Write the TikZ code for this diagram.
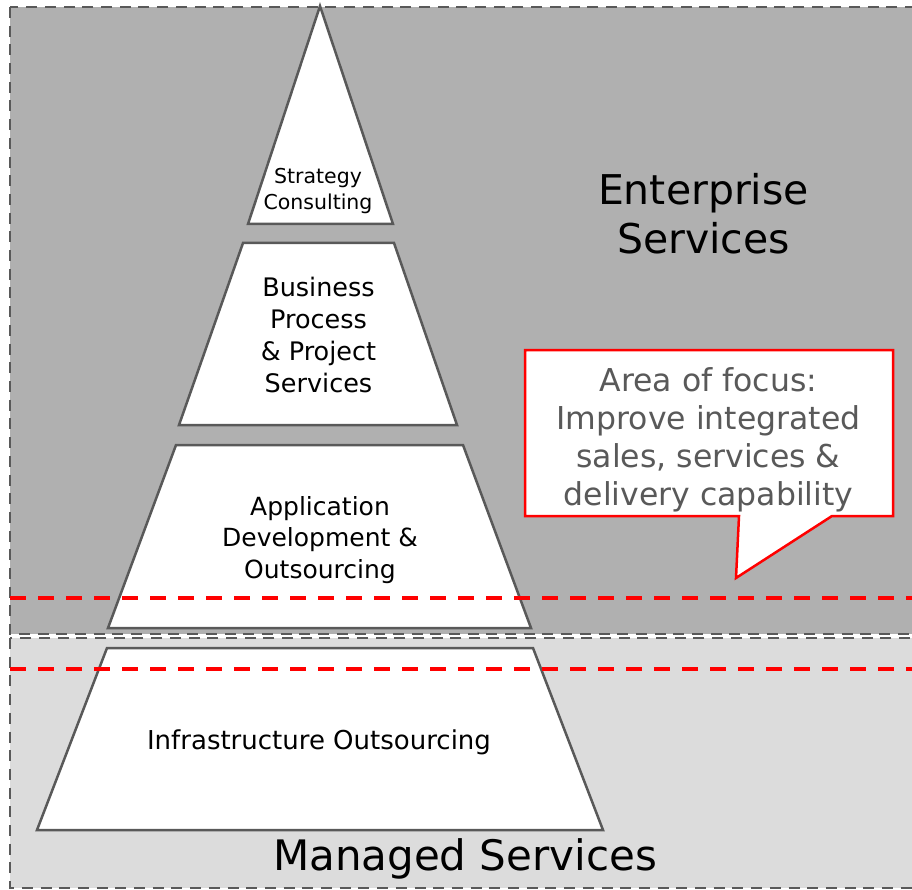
\documentclass[tikz,border=0pt]{standalone}
\usepackage{fontspec}
\setmainfont{DejaVu Sans}
\definecolor{darkband}{HTML}{B0B0B0}
\definecolor{lightband}{HTML}{DCDCDC}
\definecolor{edgegray}{HTML}{595959}
\definecolor{focusred}{HTML}{FF0000}
\definecolor{focustext}{HTML}{595959}

\begin{document}
\begin{tikzpicture}[
    x=1pt, y=-1pt,
    frame/.style={draw=edgegray, line width=2.5pt, dash pattern=on 11pt off 7.7pt},
    tier/.style={draw=edgegray, fill=white, line width=2.5pt},
    tiertext/.style={align=center, inner sep=0pt},
    banner/.style={align=center, inner sep=0pt, font=\fontsize{41}{49}\selectfont},
    redline/.style={draw=focusred, line width=4pt, dash pattern=on 16pt off 12pt},
    callout/.style={draw=focusred, fill=white, line width=2.5pt}
  ]
    \useasboundingbox (0,0) rectangle (912,890);
    \fill[white] (0,0) rectangle (912,890);
    \clip (0,0) rectangle (912,890);

    % Bands
    \draw[frame, fill=darkband] (10,7) rectangle (930,634);
    \draw[frame, fill=lightband] (10,638) rectangle (930,888);

    % Pyramid tiers
    \draw[tier] (320,6) -- (393,224) -- (248,224) -- cycle;
    \draw[tier] (243,243) -- (394,243) -- (457,425) -- (179,425) -- cycle;
    \draw[tier] (176,445) -- (463,445) -- (531,628) -- (108,628) -- cycle;
    \draw[tier] (107,648) -- (533,648) -- (603,830) -- (37,830) -- cycle;

    % Focus limits
    \draw[redline] (10,598) -- (930,598);
    \draw[redline] (10,669) -- (930,669);

    % Callout
    \draw[callout] (525,350) -- (893,350) -- (893,516) -- (832,516)
        -- (736,578) -- (739,516) -- (525,516) -- cycle;

    % Tier labels
    \node[tiertext, font=\fontsize{20.5}{26}\selectfont] (strategy) at (318,191.5) {Strategy\\Consulting};
    \node[tiertext, font=\fontsize{25.5}{32}\selectfont] (business) at (318.5,335) {Business\\Process\\\& Project\\Services};
    \node[tiertext, font=\fontsize{25}{31.5}\selectfont] (appdev) at (320,540) {Application\\Development \&\\Outsourcing};
    \node[tiertext, font=\fontsize{26}{32}\selectfont] (infra) at (319,742) {Infrastructure Outsourcing};

    % Band labels
    \node[banner] (enterprise) at (703.5,214) {Enterprise\\Services};
    \node[banner, font=\fontsize{42}{50}\selectfont] (managed) at (465,859) {Managed Services};

    \node[tiertext, text=focustext, font=\fontsize{31.5}{38}\selectfont] (focus) at (708.5,439.5)
        {Area of focus:\\Improve integrated\\sales, services \&\\delivery capability};
  \end{tikzpicture}
\end{document}
